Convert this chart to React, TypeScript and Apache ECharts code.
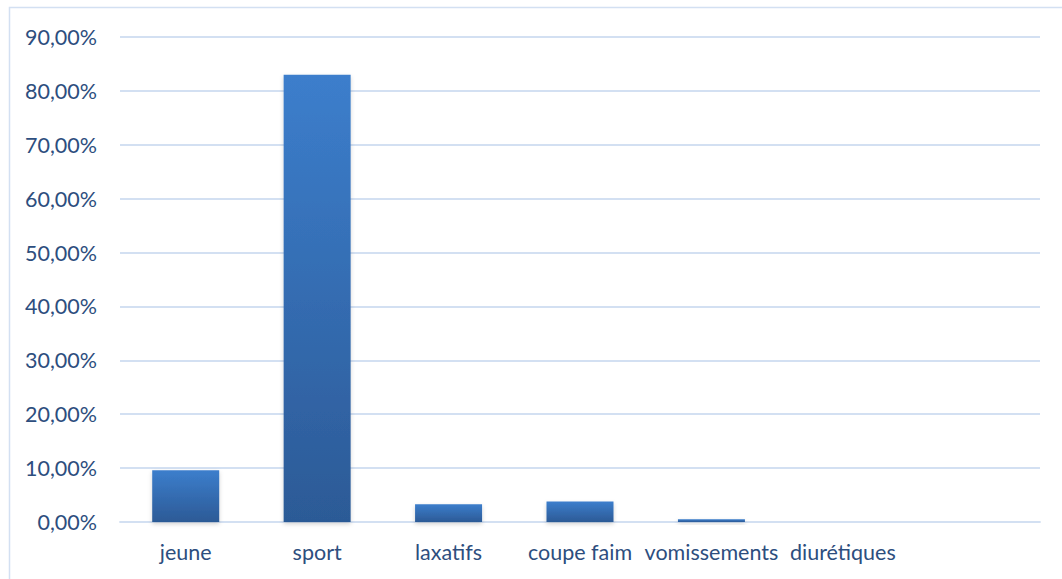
import React, { useEffect, useRef } from "react";
import * as echarts from "echarts";

const categories = ["jeune", "sport", "laxatifs", "coupe faim", "vomissements", "diurétiques", ""];
const values = [0.096, 0.83, 0.033, 0.038, 0.005, 0, null];
const yTicks = { min: 0, max: 0.9, interval: 0.1 };

const formatPct = (v: number) => (v * 100).toFixed(2).replace(".", ",") + "%";

export default function App() {
  const ref = useRef<HTMLDivElement>(null);
  useEffect(() => {
    const chart = echarts.init(ref.current!, null, { renderer: "svg" });
    const labelColor = "#2D4E7E";
    const gridColor = "#D3E0F2";
    chart.setOption({
      animation: false,
      backgroundColor: "#ffffff",
      textStyle: { fontFamily: "Lato" },
      graphic: [
        {
          type: "rect",
          shape: { x: 9.5, y: 7.5, width: 1070, height: 600 },
          style: { fill: "none", stroke: gridColor, lineWidth: 1.5 },
          silent: true,
        },
      ],
      grid: { left: 120, right: 22, top: 37, bottom: 57 },
      xAxis: {
        type: "category",
        data: categories,
        axisLine: { show: true, lineStyle: { color: gridColor, width: 1.8 } },
        axisTick: { show: false },
        axisLabel: { color: labelColor, fontSize: 21.5, margin: 19, fontFamily: "Lato", interval: 0 },
      },
      yAxis: {
        type: "value",
        min: yTicks.min,
        max: yTicks.max,
        interval: yTicks.interval,
        axisLine: { show: false },
        axisTick: { show: false },
        splitLine: { lineStyle: { color: gridColor, width: 1.8 } },
        axisLabel: {
          color: labelColor,
          fontSize: 21.5,
          margin: 23,
          fontFamily: "Lato",
          formatter: (v: number) => formatPct(v),
        },
      },
      series: [
        {
          type: "bar",
          data: values,
          barWidth: 67,
          itemStyle: {
            color: new echarts.graphic.LinearGradient(0, 0, 0, 1, [
              { offset: 0, color: "#3C7ECC" },
              { offset: 1, color: "#2C5A96" },
            ]),
            shadowBlur: 4,
            shadowColor: "rgba(0,0,0,0.18)",
            shadowOffsetY: 2,
          },
        },
      ],
    });
    return () => chart.dispose();
  }, []);
  return (
    <div
      ref={ref}
      style={{ position: "absolute", left: 0, top: 0, width: 1062, height: 579 }}
    />
  );
}
